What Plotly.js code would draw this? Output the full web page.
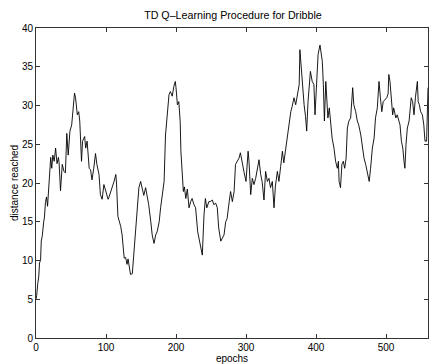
<!DOCTYPE html>
<html>
<head>
<meta charset="utf-8">
<script src="https://cdn.plot.ly/plotly-3.0.1.min.js"></script>
<style>html,body{margin:0;padding:0;background:#fff;}#chart{width:429px;height:364px;}</style>
</head>
<body>
<div id="chart"></div>
<script>
const epochs = [0,1,2.5,4,5,6.5,7.5,9,11,12,13.5,15,16.5,18,20,21,22.5,24,26,28,30,32,33,35,37.5,40,42,44,46,48.5,51,53,55,56.5,58,59,61,62.5,65,66.5,69.5,71,73,74.5,76,78,80,82.5,85,87,90,92,94.5,97,99,101,103,104,107,109,111.5,114,115,117,121,123,126,128,130,131.5,133,135,137.6,140,142,145,147,149.5,152,154,156.6,159,161,164,166,168.6,171,173,176,178,180.5,183,185,187.6,190,192,194.6,197,199,200,202,204,206,207,209,210.5,212,214,216.2,218.6,221,223,225.7,228,231,233,235.2,237.6,240,242,244,247,249,252,254,256.7,259,261,264,266,268.6,271,273,276,278,280.5,283,285,287.6,290,292,294.6,297,300,301,303,304.3,306.7,309,311.4,313.8,316,318.6,321,323,325.7,328,330.5,332.8,335,337.6,340,342,344.8,347,349.5,352,354,356.7,359,361,364,366,368.6,371,373,376,377,379,381,383,385,386.7,388.6,391,392,394.6,397,398.6,401,403,405.7,407.6,409,410.5,412,414,416,417,419,421,423,425.7,428,430.5,432,433,435,437,439,441,443,444.8,447,449.5,451,452.4,454,456.7,459,461,464,466,468.6,471,473,476,478,480.5,483,485,487.6,490,492,494,496,498,501,503,504,505.7,507.6,509.5,511,514,516,518.6,520,522,524,525.7,527,528.6,530.5,533,534.3,536,538,540,542,543.8,544.8,546,547.6,549.5,552,554,555.7,558,559,560];
const distance = [5.0,5.5,7.0,8.0,9.7,10.0,12.5,13.2,15.0,15.5,17.5,18.2,17.0,19.5,21.5,23.3,21.9,23.6,22.8,24.5,22.5,23.3,22.6,19.0,22.4,21.5,21.3,26.4,23.6,26.7,27.5,29.2,31.6,31.0,29.5,28.8,29.2,28.0,22.8,25.4,26.0,24.5,25.4,23.0,21.9,21.7,20.4,21.9,23.8,22.4,21.1,18.5,17.9,19.8,19.1,18.5,17.9,18.1,18.9,19.4,20.2,21.1,20.0,15.7,14.4,13.3,10.3,10.4,9.5,10.2,9.0,8.2,8.3,11.1,13.7,17.6,19.4,20.2,18.9,18.4,19.4,18.4,17.2,15.0,13.3,12.2,13.3,13.7,15.0,16.8,18.9,20.2,26.2,29.2,31.4,31.8,31.2,32.5,33.1,32.3,30.1,30.5,27.9,24.1,20.6,18.9,19.5,18.0,19.2,16.8,17.6,18.0,17.2,16.8,13.7,12.9,11.6,10.7,15.9,18.0,16.8,17.6,17.6,17.8,17.2,17.4,16.8,14.2,12.5,12.9,13.3,15.0,15.4,17.6,18.9,17.6,18.9,22.4,22.8,23.2,23.9,22.4,21.5,20.2,21.7,24.1,22.8,18.5,20.6,19.8,20.6,21.9,23.0,21.1,20.2,17.8,21.5,20.2,20.6,19.4,20.2,16.8,19.6,21.5,20.2,22.1,24.1,22.6,24.5,26.2,27.5,29.2,29.9,31.0,30.1,31.2,32.7,37.2,34.8,31.8,30.1,28.6,26.7,30.5,33.5,34.4,33.1,32.7,28.8,34.4,36.6,37.8,36.6,35.7,32.7,28.0,33.1,30.5,28.4,29.7,27.5,25.8,24.5,22.8,21.9,22.8,20.2,19.4,22.4,22.8,21.9,23.2,27.1,28.0,28.4,30.5,32.3,30.1,29.2,28.0,27.5,26.2,24.5,23.2,22.4,21.5,20.2,21.9,24.5,25.8,28.4,29.7,33.1,31.0,29.2,30.5,30.7,31.0,31.5,34.0,33.1,30.5,28.8,29.7,28.4,28.8,28.0,27.5,25.4,24.5,22.8,21.9,25.0,27.1,28.0,29.7,31.0,30.5,28.8,31.0,32.3,33.1,30.5,30.1,29.2,28.8,27.5,25.4,25.4,28.4,32.3];
const xTicks = [0,100,200,300,400,500];
const yTicks = [0,5,10,15,20,25,30,35,40];

const trace = {
  x: epochs, y: distance, type: 'scatter', mode: 'lines',
  line: {color: '#000', width: 0.9}, hoverinfo: 'skip'
};
const fam = 'Liberation Sans, Arial, Helvetica, sans-serif';
const fnt = {family: fam, size: 10, color: '#000'};
const layout = {
  width: 429, height: 364,
  margin: {l: 36, r: 1, t: 28, b: 26, pad: 0},
  paper_bgcolor: '#fff', plot_bgcolor: '#fff',
  showlegend: false,
  font: fnt,
  title: {text: 'TD Q\u2013Learning Procedure for Dribble', x: 0.543, xanchor: 'center', y: 0.957, yanchor: 'middle', yref: 'container', font: {family: fam, size: 10.7, color: '#000'}},
  xaxis: {
    range: [0, 560], tickvals: xTicks, ticktext: xTicks.map(String),
    ticks: 'inside', ticklen: 4, tickcolor: '#333', tickwidth: 1,
    showline: true, linecolor: '#333', linewidth: 1, mirror: 'ticks',
    showgrid: false, zeroline: false, tickfont: fnt,
    title: {text: 'epochs', font: {family: fam, size: 10, color: '#000'}, standoff: 2}
  },
  yaxis: {
    range: [0, 40], tickvals: yTicks, ticktext: yTicks.map(String),
    ticks: 'inside', ticklen: 4, tickcolor: '#333', tickwidth: 1,
    showline: true, linecolor: '#333', linewidth: 1, mirror: 'ticks',
    showgrid: false, zeroline: false, tickfont: fnt
  },
  annotations: [{
    text: 'distance reached', xref: 'paper', yref: 'paper',
    x: -0.056, y: 0.5, xanchor: 'center', yanchor: 'middle',
    textangle: -90, showarrow: false, font: {family: fam, size: 10, color: '#000'}
  }]
};
Plotly.newPlot('chart', [trace], layout, {staticPlot: true, displayModeBar: false});
</script>
</body>
</html>
